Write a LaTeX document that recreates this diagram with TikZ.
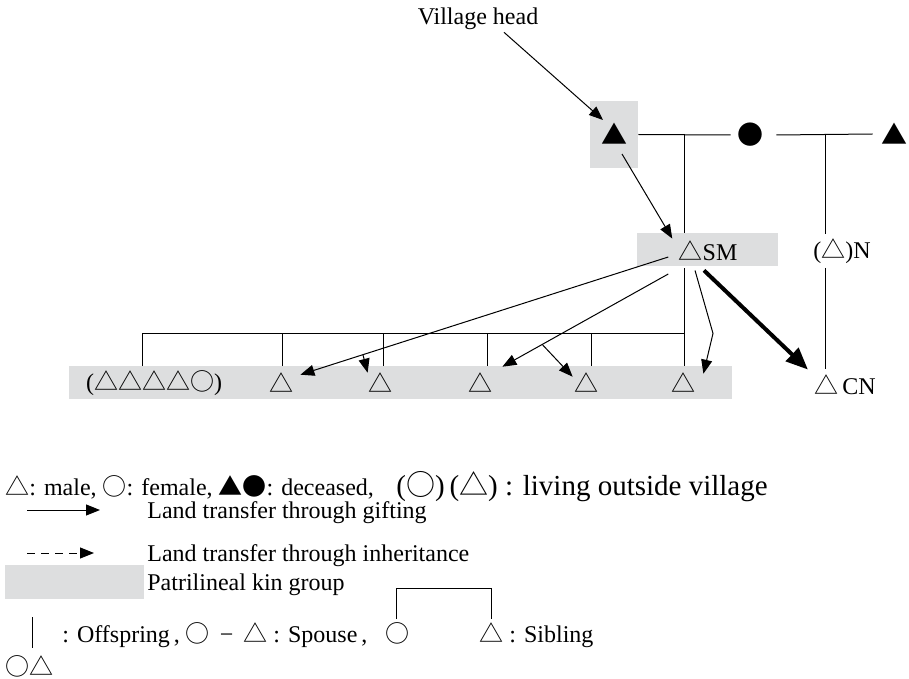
\documentclass[tikz,border=0pt]{standalone}
\usepackage{fontspec}
\setmainfont{Liberation Serif}
\newfontfamily\symf{Noto Sans CJK JP}
\usetikzlibrary{arrows.meta,calc}
\definecolor{kingray}{RGB}{221,222,223}
\newcommand{\mytri}{{\symf △}}
\newcommand{\mycir}{{\symf ○}}
\newcommand{\myftri}{{\symf ▲}}
\newcommand{\myfcir}{{\symf ●}}
\begin{document}
\begin{tikzpicture}[x=0.5pt,y=-0.5pt,
  every node/.style={inner sep=0pt, font=\fontsize{12}{14}\selectfont},
  ln/.style={line width=0.5pt},
  arr/.style={line width=0.5pt, -{Triangle[length=7pt,width=5.5pt]}},
  thick arr/.style={line width=2pt, -{Triangle[length=11pt,width=9pt]}},
  dash arr/.style={line width=0.5pt, dash pattern=on 4pt off 3pt, -{Triangle[length=7pt,width=5.5pt]}},
  big/.style={font=\fontsize{13}{15}\selectfont\symf},
  kinbox/.style={fill=kingray, draw=none}]
\useasboundingbox (0,0) rectangle (909,679);

% grey kin-group boxes
\node[kinbox, minimum width=24pt, minimum height=33.5pt] (hb) at (614,134.5) {};
\node[kinbox, minimum width=70.5pt, minimum height=16.5pt] (smb) at (707.5,249.5) {};
\node[kinbox, minimum width=331.5pt, minimum height=16.5pt] (kin) at (400.5,382.5) {};

% persons
\node (vh) at (478,19) {Village head};
\node[big] (hd) at (614,134) {▲};
\node[big] (d1) at (750,135) {●};
\node[big] (hr) at (894,134) {▲};
\node (sm) at (708,251) {\mytri SM};
\node (n) at (842,251) {(\mytri)N};
\node (cn) at (845,385) {\mytri\,CN};
\node (g) at (154,383) {(\mytri\mytri\mytri\mytri\mycir)};
\node (c1) at (281,383) {\mytri};
\node (c2) at (380,383) {\mytri};
\node (c3) at (480,383) {\mytri};
\node (c4) at (586,383) {\mytri};
\node (c5) at (683,383) {\mytri};

% kinship lines
\coordinate (m1) at (684,134);
\coordinate (m2) at (825,134);
\draw[ln] (hb.east) -- ($(d1.west)+(-6,0)$);
\draw[ln] ($(d1.east)+(13,0)$) -- ($(hr.west)+(-8,0)$);
\draw[ln] (m1) -- (m1 |- smb.north);
\draw[ln] (m2) -- ($(m2 |- n.north)+(0,-4)$);
\draw[ln] ($(m2 |- n.south)+(0,4)$) -- ($(m2 |- cn.north)+(0,-6)$);
\coordinate (k0) at (142,333);
\coordinate (k1) at (282,333);
\coordinate (k2) at (383,333);
\coordinate (k3) at (487,333);
\coordinate (k4) at (591,333);
\coordinate (k5) at (684,333);
\draw[ln] ($(m1 |- smb.south)+(0,2)$) -- (m1 |- kin.north);
\draw[ln] (k0) -- (k5);
\foreach \k in {k0,k1,k2,k3,k4} \draw[ln] (\k) -- (\k |- kin.north);

% land transfers
\draw[arr] ($(vh.south)+(26,2)$) -- ($(hd.center)+(-11,-14)$);
\draw[arr] ($(hd.center)+(8,20)$) -- ($(sm.north west)+(-6,-2)$);
\draw[arr] ($(sm.west)+(-10,6)$) -- coordinate[pos=0.83] (a1p) ($(c1.north east)+(7,2)$);
\draw[arr] ($(sm.west)+(-10,23)$) -- coordinate[pos=0.76] (a2p) ($(c3.north east)+(10,-6)$);
\draw[arr] ($(sm.south)+(-13,9)$) -- ($(sm.south)+(5,72)$) -- ($(c5.north east)+(8,1)$);
\draw[arr] (a2p) -- ($(c4.north west)+(-1,4)$);
\draw[arr] (a1p) -- (c2.north west);
\draw[thick arr] ($(sm.south)+(-4,9)$) -- ($(cn.north west)+(-6,-5)$);

% legend
\node[anchor=base west] (l1) at (5,495) {\mytri: male, \mycir: female, \myftri\myfcir: deceased,};
\node[anchor=base west, font=\fontsize{14.5}{17}\selectfont] (l1b) at (396,495) {(\mycir)\,(\mytri) : living outside village};
\coordinate (l2s) at (27,510);
\coordinate (l2e) at (100,510);
\draw[arr] (l2s) -- (l2e);
\node[anchor=base west] (l2) at (147,518) {Land transfer through gifting};
\coordinate (l3s) at (27,553);
\coordinate (l3e) at (94,553);
\draw[dash arr] (l3s) -- (l3e);
\node[anchor=base west] (l3) at (147,561) {Land transfer through inheritance};
\node[kinbox, minimum width=69.5pt, minimum height=17pt, anchor=north west] (lk) at (5,565) {};
\node[anchor=base west] (l4) at (147,590) {Patrilineal kin group};
\coordinate (ob1) at (32,617);
\coordinate (ob2) at (32,648);
\draw[ln] (ob1) -- (ob2);
\node[anchor=base west] (l5) at (62,642) {: Offspring\,, \mycir{} \,−\, \mytri{} : Spouse\,,};
\node[anchor=base] (sc) at (397,642) {\mycir};
\node[anchor=base west] (st) at (479,642) {\mytri{} : Sibling};
\coordinate (sb1) at (396,619);
\coordinate (sb2) at (491,619);
\draw[ln] (sb1) -- (396,588) -- (491,588) -- (sb2);
\node[anchor=base west] (l6) at (5,675) {\mycir\mytri};
\end{tikzpicture}
\end{document}
